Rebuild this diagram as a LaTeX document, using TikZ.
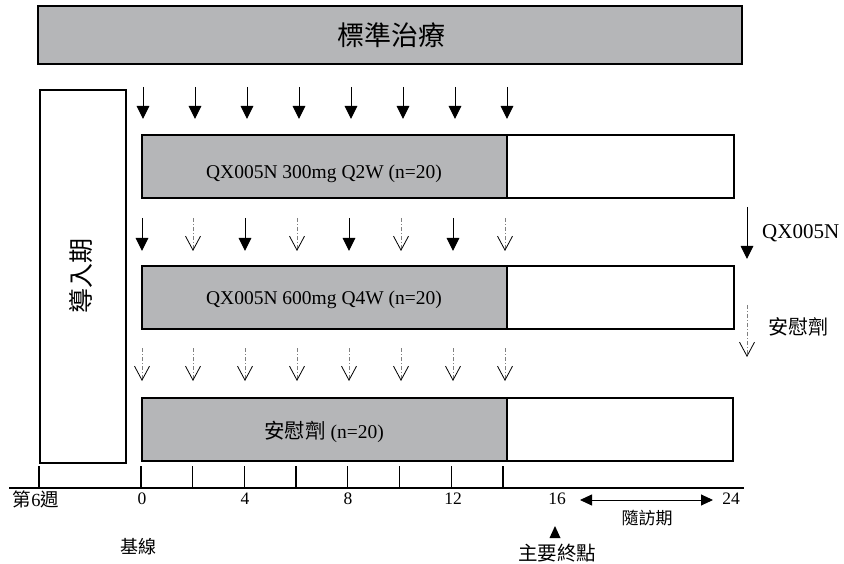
\documentclass[tikz,border=0pt]{standalone}
\usepackage{fontspec}
\setmainfont{Liberation Serif}
\newfontfamily\cjk{Noto Sans CJK TC}
\usetikzlibrary{arrows.meta}
\definecolor{boxgray}{RGB}{181,182,184}
\tikzset{
  frame/.style={draw=black, line width=1.6pt, inner sep=0pt, anchor=north west},
  graybox/.style={frame, fill=boxgray},
  whitebox/.style={frame, fill=white},
  dose/.style={line width=1pt, -{Triangle[length=13pt,width=12.5pt]}},
  pbo/.style={draw=gray, line width=0.9pt, dash pattern=on 4pt off 2pt on 1pt off 2pt,
     -{Straight Barb[length=14pt,width=15pt,line width=0.8pt,color=black]}},
  tick/.style={line width=1.3pt},
  lab/.style={font=\fontsize{17.5}{19}\selectfont, inner sep=0pt},
  cjklab/.style={font=\fontsize{17}{19}\selectfont\cjk, inner sep=0pt},
  boxtext/.style={font=\fontsize{19.5}{21}\selectfont, inner sep=0pt},
}
\begin{document}
\begin{tikzpicture}[x=1pt,y=-1pt]
\useasboundingbox (0,0) rectangle (844,564);
% standard treatment
\node (std) [graybox, minimum width=704pt, minimum height=58pt] at (37,5) {};
\node (stdt) [font=\fontsize{27}{29}\selectfont\cjk, inner sep=0pt] at (391,35) {標準治療};
% induction
\node (ind) [whitebox, minimum width=86pt, minimum height=373pt] at (39,89) {};
\node (indt) [rotate=90, font=\fontsize{25}{27}\selectfont\cjk, inner sep=0pt] at (81,276) {導入期};
% arm boxes
\node (b1g) [graybox, minimum width=365pt, minimum height=63pt] at (141,134) {};
\node (b1w) [whitebox, minimum width=227pt, minimum height=63pt] at (506,134) {};
\node (b1t) [boxtext] at (324,174) {QX005N 300mg Q2W (n=20)};
\node (b2g) [graybox, minimum width=365pt, minimum height=63pt] at (141,265) {};
\node (b2w) [whitebox, minimum width=227pt, minimum height=63pt] at (506,265) {};
\node (b2t) [boxtext] at (324,300) {QX005N 600mg Q4W (n=20)};
\node (b3g) [graybox, minimum width=365pt, minimum height=63pt] at (141,397) {};
\node (b3w) [whitebox, minimum width=226pt, minimum height=63pt] at (506,397) {};
\node (b3t) [boxtext] at (324,432) {{\cjk\fontsize{20.5}{22}\selectfont 安慰劑} (n=20)};
% row 1 arrows
\foreach \x [count=\i] in {143,195,247,299,351,403,455,507}{
  \coordinate (a1s\i) at (\x,87); \coordinate (a1e\i) at (\x,119);
  \draw[dose] (a1s\i) -- (a1e\i);
}
% row 2 arrows
\foreach \x [count=\i] in {142,193,245,297,349,401,453,505}{
  \coordinate (a2s\i) at (\x,218); \coordinate (a2e\i) at (\x,251);
  \ifodd\i \draw[dose] (a2s\i) -- (a2e\i); \else \draw[pbo] (a2s\i) -- (a2e\i); \fi
}
% row 3 arrows
\foreach \x [count=\i] in {142,193,245,297,349,401,453,505}{
  \coordinate (a3s\i) at (\x,348); \coordinate (a3e\i) at (\x,381);
  \draw[pbo] (a3s\i) -- (a3e\i);
}
% legend
\coordinate (ls1) at (747,207); \coordinate (le1) at (747,259);
\draw[dose] (ls1) -- (le1);
\node (lt1) [font=\fontsize{21}{23}\selectfont, inner sep=0pt, anchor=west] at (762,233) {QX005N};
\coordinate (ls2) at (747,305); \coordinate (le2) at (747,357);
\draw[pbo] (ls2) -- (le2);
\node (lt2) [font=\fontsize{20}{22}\selectfont\cjk, inner sep=0pt, anchor=west] at (768,327) {安慰劑};
% axis
\coordinate (axl) at (9,488); \coordinate (axr) at (744,488);
\draw[line width=1.6pt] (axl) -- (axr);
\draw[tick] (39,466) -- (39,488);
\foreach \i in {0,...,7}{ \draw[tick] (141+51.7*\i,466) -- (141+51.7*\i,488); }
\node (w6) [font=\fontsize{18.5}{20}\selectfont\cjk, inner sep=0pt] at (36,499) {第{\rmfamily 6}週};
\node (l0) [lab] at (142,499) {0};
\node (l4) [lab] at (245,499) {4};
\node (l8) [lab] at (348,499) {8};
\node (l12) [lab] at (453,499) {12};
\node (l16) [lab] at (557,499) {16};
\node (l24) [lab] at (731,499) {24};
\coordinate (fs) at (580,500); \coordinate (fe) at (713,500);
\draw[line width=0.9pt, {Triangle[length=12pt,width=11pt]}-{Triangle[length=12pt,width=11pt]}] (fs) -- (fe);
\node (fu) [cjklab] at (647,518) {隨訪期};
\fill (555,526) -- (560.5,538) -- (549.5,538) -- cycle;
\node (pe) [font=\fontsize{19.5}{21}\selectfont\cjk, inner sep=0pt] at (557,553) {主要終點};
\node (bl) [font=\fontsize{18}{20}\selectfont\cjk, inner sep=0pt] at (138,547) {基線};
\end{tikzpicture}
\end{document}
